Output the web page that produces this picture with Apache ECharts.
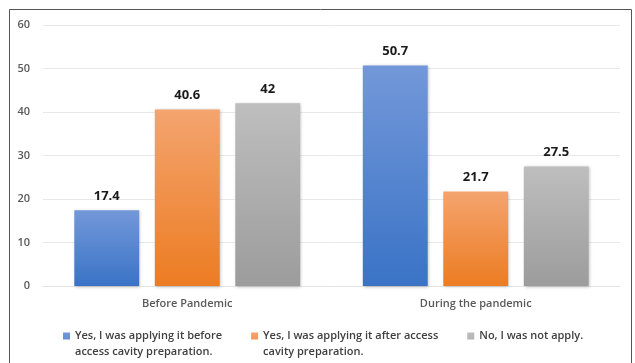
<!DOCTYPE html>
<html>
<head>
<meta charset="utf-8">
<script src="https://cdn.jsdelivr.net/npm/echarts@6/dist/echarts.min.js"></script>
<style>
html,body{margin:0;padding:0;background:#fff;}
#c{width:635px;height:363px;}
</style>
</head>
<body>
<div id="c"></div>
<script>
const categories = ['Before Pandemic', 'During the pandemic'];
const seriesNames = [
  'Yes, I was applying it before access cavity preparation.',
  'Yes, I was applying it after access cavity preparation.',
  'No, I was not apply.'
];
const legendLabels = [
  'Yes, I was applying it before\naccess cavity preparation.',
  'Yes, I was applying it after access\ncavity preparation.',
  'No, I was not apply.\n '
];
const beforeValues = [17.4, 50.7];
const afterValues = [40.6, 21.7];
const notApplyValues = [42, 27.5];
const yTicks = [0, 10, 20, 30, 40, 50, 60];

const gradients = [
  ['#7398d9', '#3a73c6'],
  ['#f4a46f', '#ec7c22'],
  ['#bebebe', '#9c9c9c']
];
const FONT = '"Open Sans", "Noto Sans", sans-serif';

function grad(c) {
  return {type: 'linear', x: 0, y: 0, x2: 0, y2: 1,
    colorStops: [{offset: 0, color: c[0]}, {offset: 1, color: c[1]}]};
}
const dataSets = [beforeValues, afterValues, notApplyValues];
const iconPath = 'path://M0,0H7V7H0Z M0,23H0.01V23H0Z';

const chart = echarts.init(document.getElementById('c'), null, {renderer: 'canvas'});
chart.setOption({
  animation: false,
  backgroundColor: '#fff',
  graphic: [{
    type: 'rect', shape: {x: 9.5, y: 9.5, width: 622, height: 420},
    style: {fill: 'none', stroke: '#555', lineWidth: 1}, silent: true, z: -1
  }],
  grid: {left: 43, right: 15, top: 25, bottom: 77, containLabel: false},
  xAxis: {
    type: 'category', data: categories,
    axisLine: {lineStyle: {color: '#e3e3e3'}},
    axisTick: {show: false},
    axisLabel: {color: '#595959', fontSize: 11, fontFamily: FONT, fontWeight: 600, margin: 12}
  },
  yAxis: {
    type: 'value', min: yTicks[0], max: yTicks[yTicks.length - 1], interval: 10,
    axisLine: {show: false}, axisTick: {show: false},
    splitLine: {lineStyle: {color: '#e8e8e8'}},
    axisLabel: {color: '#595959', fontSize: 11, fontFamily: FONT, fontWeight: 600, margin: 13}
  },
  legend: {
    left: 63, top: 328, padding: 0, itemWidth: 7, itemHeight: 23, itemGap: 29,
    icon: iconPath,
    textStyle: {color: '#404040', fontSize: 11, fontFamily: FONT, fontWeight: 600, lineHeight: 16},
    formatter: function (name) { return legendLabels[seriesNames.indexOf(name)]; },
    data: seriesNames
  },
  series: seriesNames.map((n, i) => ({
    name: n, type: 'bar', data: dataSets[i],
    barWidth: '22.5%', barGap: '24%',
    itemStyle: {color: grad(gradients[i]), shadowBlur: 3, shadowColor: 'rgba(0,0,0,0.25)', shadowOffsetX: 1, shadowOffsetY: 1},
    label: {show: true, position: 'top', distance: 8, color: '#1a1a1a', fontSize: 13, fontWeight: 'bold', fontFamily: FONT}
  }))
});
</script>
</body>
</html>
